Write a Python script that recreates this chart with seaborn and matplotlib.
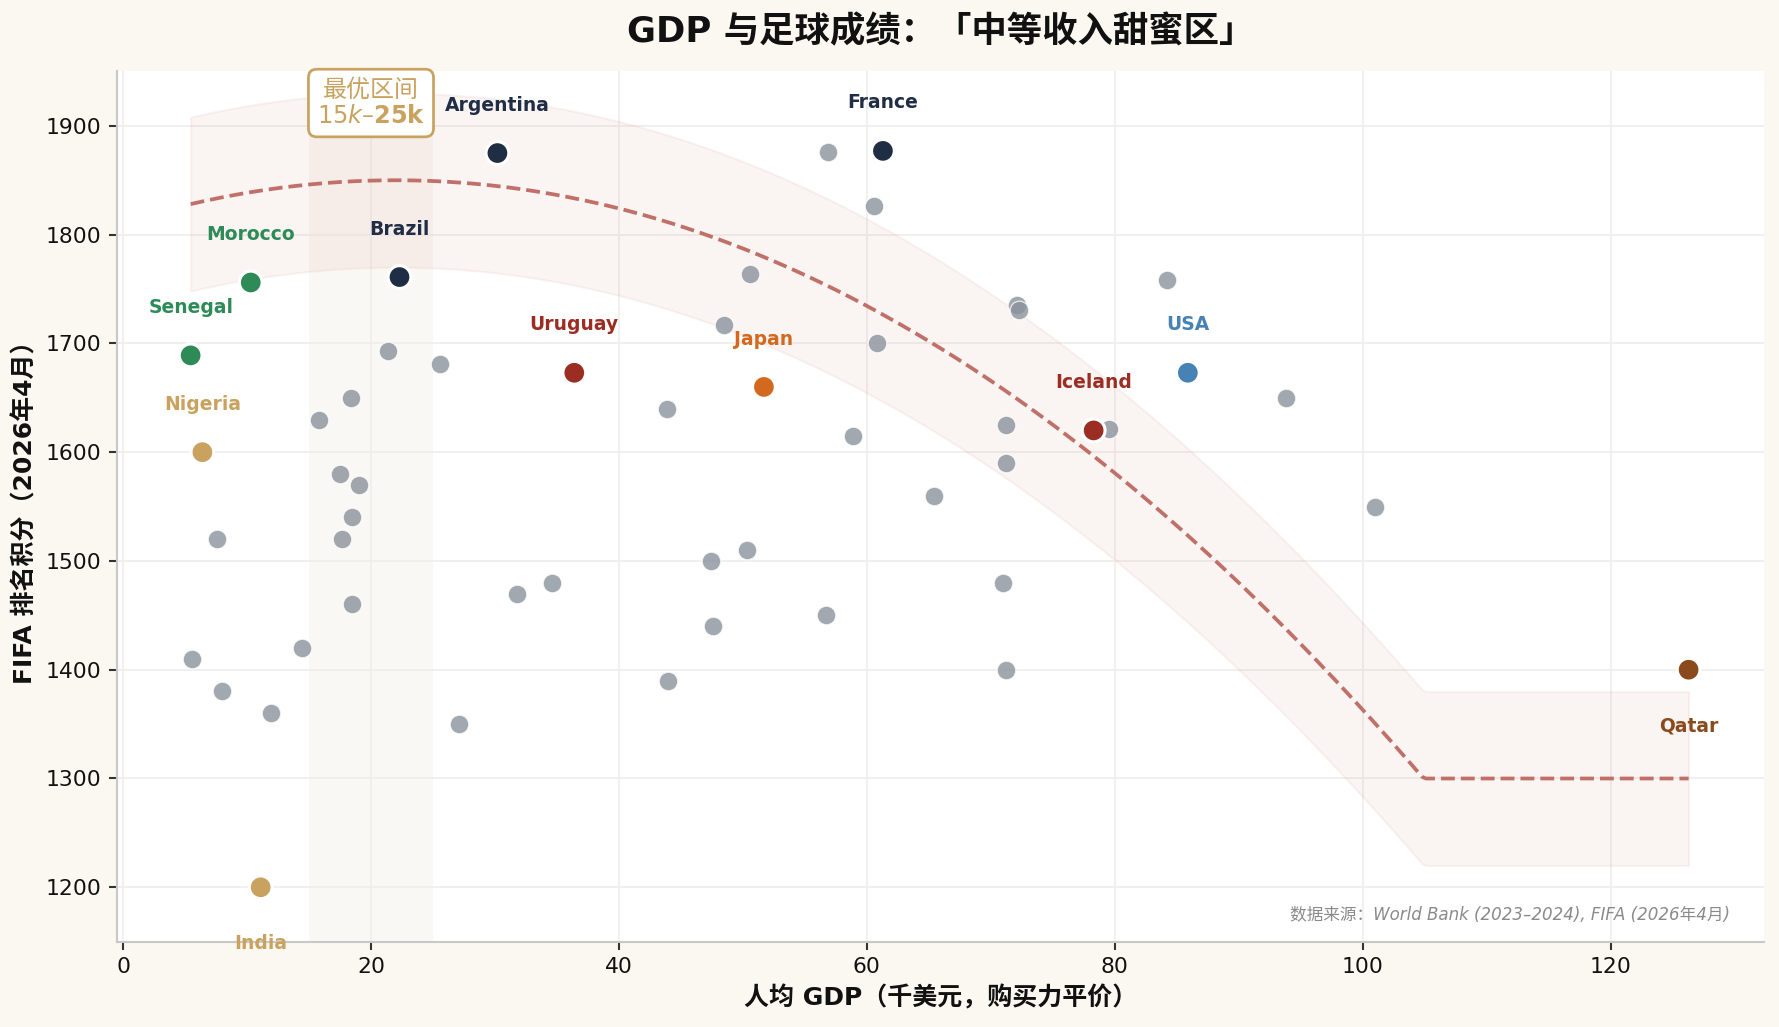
import numpy as np
import pandas as pd
import matplotlib
matplotlib.use("Agg")
import matplotlib.pyplot as plt
import seaborn as sns

# ---------------- data ----------------
other_gdp = [5.6, 8.0, 7.6, 11.9, 14.4, 15.8, 18.4, 17.5, 19.0, 18.5, 17.7, 18.5,
             21.4, 25.6, 27.1, 31.8, 34.6, 43.9, 44.0, 47.4, 47.6, 48.5, 50.3, 50.6,
             56.7, 56.9, 60.6, 58.9, 60.8, 65.4, 72.1, 72.3, 71.2, 71.2, 71.0, 71.2,
             79.5, 84.2, 93.8, 101.0]
other_pts = [1410, 1380, 1520, 1360, 1420, 1630, 1650, 1580, 1570, 1540, 1520, 1460,
             1693, 1681, 1350, 1470, 1480, 1640, 1390, 1500, 1440, 1717, 1510, 1764,
             1450, 1876, 1826, 1615, 1700, 1560, 1735, 1731, 1625, 1590, 1480, 1400,
             1621, 1758, 1650, 1550]

hl_names = ["Argentina", "France", "Brazil", "Morocco", "Senegal", "Nigeria", "India",
            "Uruguay", "Japan", "Iceland", "USA", "Qatar"]
hl_gdp = [30.2, 61.3, 22.3, 10.3, 5.45, 6.4, 11.1, 36.4, 51.7, 78.3, 85.9, 126.3]
hl_pts = [1875, 1877, 1761, 1756, 1689, 1600, 1200, 1673, 1660, 1620, 1673, 1400]
hl_colors = ["#1F2D45", "#1F2D45", "#1F2D45", "#2E8B57", "#2E8B57", "#C8A25E", "#C8A25E",
             "#9B2D22", "#D2691E", "#9B2D22", "#4682B4", "#8B4A1C"]
hl_below = ["India", "Qatar"]

# trend model (quadratic peak with floor) and band half-width
trend_peak_x = 22.0
trend_peak_y = 1850.0
trend_curv = 0.08
trend_floor = 1300.0
band_half = 80.0

sweet_lo, sweet_hi = 15, 25

title = "GDP 与足球成绩：「中等收入甜蜜区」"
xlabel = "人均 GDP（千美元，购买力平价）"
ylabel = "FIFA 排名积分（2026年4月）"
source = "数据来源：World Bank (2023–2024), FIFA (2026年4月)"
box_text = "最优区间\n15$k$–$\\mathbf{25k}$"

# ---------------- style ----------------
sns.set_theme(style="whitegrid")
plt.rcParams["font.family"] = ["DejaVu Sans", "Noto Sans CJK SC"]
plt.rcParams["axes.unicode_minus"] = False

BG = "#FBF8F1"
fig = plt.figure(figsize=(1779 / 150, 1027 / 150), dpi=150, facecolor=BG)
ax = fig.add_axes([0.0657, 0.0831, 0.926, 0.8473])
ax.set_facecolor("white")

# sweet spot shading
ax.axvspan(sweet_lo, sweet_hi, color="#EFE9DC", alpha=0.3, lw=0, zorder=0)

# trend
tx = np.linspace(min(hl_gdp + other_gdp), max(hl_gdp + other_gdp), 400)
ty = np.maximum(trend_peak_y - trend_curv * (tx - trend_peak_x) ** 2, trend_floor)
ax.fill_between(tx, ty - band_half, ty + band_half, facecolor="#C8705F", alpha=0.075,
                edgecolor="#C8705F", linewidth=1.0, zorder=1)
sns.lineplot(x=tx, y=ty, ax=ax, color="#C07068", linestyle="--", linewidth=1.8,
             zorder=2, sort=False)

# other countries
sns.scatterplot(x=other_gdp, y=other_pts, ax=ax, color="#8B929C", alpha=0.8, s=80,
                edgecolor="white", linewidth=0.6, zorder=3)

# highlighted countries
hl_df = pd.DataFrame({"country": hl_names, "gdp": hl_gdp, "pts": hl_pts})
sns.scatterplot(data=hl_df, x="gdp", y="pts", hue="country",
                palette=dict(zip(hl_names, hl_colors)), s=120, edgecolor="white",
                linewidth=1.5, legend=False, ax=ax, zorder=4)

for n, x, y, c in zip(hl_names, hl_gdp, hl_pts, hl_colors):
    off = -27 if n in hl_below else 23
    ax.annotate(n, (x, y), xytext=(0, off), textcoords="offset points",
                ha="center", va="center", fontsize=9, fontweight="bold", color=c,
                zorder=5)

# sweet-spot box
ax.text((sweet_lo + sweet_hi) / 2, 1921, box_text, ha="center", va="center",
        fontsize=11.5, color="#C8A25E", linespacing=1.15, zorder=6,
        bbox=dict(boxstyle="round,pad=0.35", fc="white", ec="#C8A25E", lw=1.3))

# source
ax.text(0.979, 0.031, source, transform=ax.transAxes, ha="right", va="center",
        fontsize=8, color="#8A8A8A", style="italic", zorder=6)

# axes
ax.set_xlim(-0.5, 132.4)
ax.set_ylim(1150, 1950)
ax.set_xticks([0, 20, 40, 60, 80, 100, 120])
ax.set_yticks(range(1200, 1901, 100))
ax.grid(True, color="#F0EEEB", linewidth=0.8)
ax.set_axisbelow(True)
for s in ["top", "right"]:
    ax.spines[s].set_visible(False)
for s in ["left", "bottom"]:
    ax.spines[s].set_color("#C8C8C8")
    ax.spines[s].set_linewidth(1.0)
ax.tick_params(axis="both", which="major", labelsize=10.5, length=4, width=1,
               color="#333333", labelcolor="#111111", bottom=True, left=True)

ax.set_xlabel(xlabel, fontsize=12, fontweight="bold", color="#111111", labelpad=4)
ax.set_ylabel(ylabel, fontsize=12, fontweight="bold", color="#111111", labelpad=4)
ax.set_title(title, fontsize=17, fontweight="bold", color="#111111", pad=14)

fig.savefig("out.png", dpi=150, facecolor=BG)
